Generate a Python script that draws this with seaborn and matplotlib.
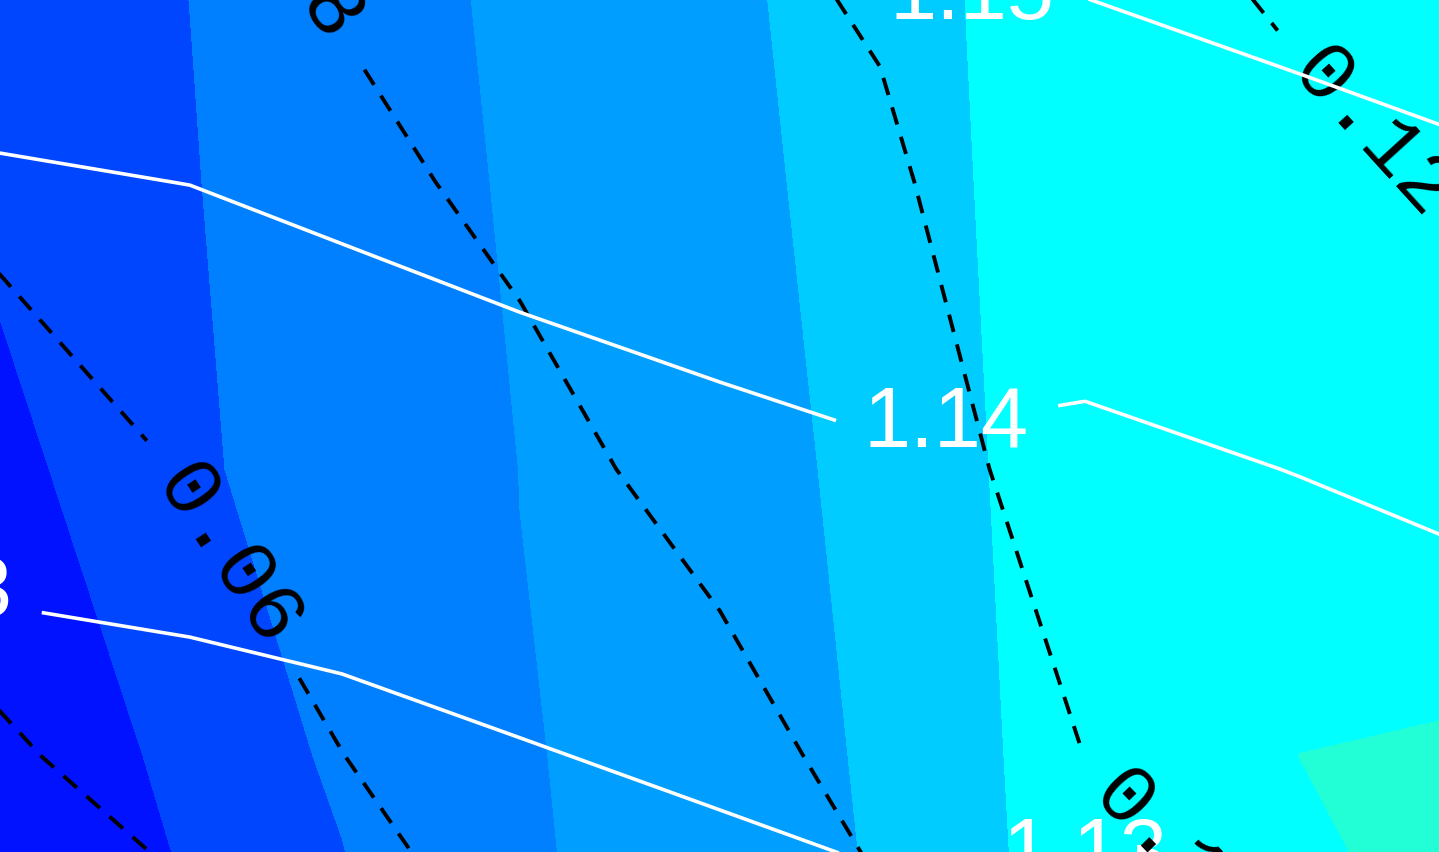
import numpy as np
import matplotlib
matplotlib.use("Agg")
import matplotlib.pyplot as plt
import seaborn as sns

# Grid of the three fields. The visible window is x 0..1439, y 0..852;
# the grid runs a little past it on every side.
x_coords = [-160, 190, 342, 520, 720, 880, 1085, 1300, 1600]
y_coords = [-120, 96, 383, 670, 972]

# shaded field (one row per y_coords entry, bottom row first)
shade_values = [
    [-0.500, 0.865, 1.755, 2.967, 3.100, 4.054, 5.480, 5.750, 6.414],
    [-1.360, 1.366, 2.150, 2.971, 3.180, 4.205, 5.520, 6.003, 6.085],
    [-0.284, 1.866, 2.450, 3.005, 3.450, 4.348, 5.574, 5.660, 5.750],
    [0.532, 1.957, 2.507, 3.100, 3.600, 4.555, 5.525, 5.700, 5.820],
    [0.950, 2.034, 2.550, 3.235, 3.800, 4.714, 5.456, 5.620, 5.750],
]
shade_levels = [-2, 1, 2, 3, 4, 5, 6, 7]
shade_colors = ["#0012FF", "#0046FF", "#0080FF", "#009EFF",
                "#00CCFF", "#00FFFF", "#22FFD6"]

# white solid contours
white_values = [
    [1.12136, 1.12259, 1.12313, 1.12460, 1.12625, 1.12759, 1.12749, 1.12926, 1.13174],
    [1.12611, 1.12737, 1.12811, 1.12958, 1.13125, 1.13259, 1.13216, 1.13394, 1.13643],
    [1.13242, 1.13372, 1.13472, 1.13621, 1.13789, 1.13924, 1.13836, 1.14017, 1.14301],
    [1.13873, 1.14007, 1.14145, 1.14315, 1.14486, 1.14568, 1.14531, 1.14731, 1.15002],
    [1.14560, 1.14744, 1.14900, 1.15090, 1.15236, 1.15270, 1.15300, 1.15483, 1.15741],
]
white_levels = [1.13, 1.14, 1.15]

# black dashed contours
dash_values = [
    [0.01300, 0.03371, 0.04798, 0.06204, 0.07020, 0.07673, 0.08814, 0.10104, 0.11052],
    [0.02673, 0.04983, 0.05987, 0.06746, 0.07480, 0.08478, 0.10010, 0.10630, 0.11504],
    [0.04413, 0.06087, 0.06751, 0.07528, 0.08510, 0.09640, 0.10314, 0.11018, 0.11980],
    [0.05695, 0.07060, 0.07629, 0.08335, 0.09185, 0.09864, 0.10676, 0.11516, 0.12733],
    [0.06698, 0.07818, 0.08387, 0.09112, 0.09927, 0.10220, 0.11645, 0.12700, 0.14200],
]
dash_levels = [0.04, 0.06, 0.08, 0.10, 0.12]

# where the inline labels sit
white_label_spots = [(-70, 258), (946, 430), (972, 856), (1085, -4)]
dash_label_spots = [(226, 295), (286, 900), (1174, -4), (1379, 725)]

sns.set_theme(style="white")
plt.rcParams["font.family"] = ["Liberation Sans", "DejaVu Sans"]
plt.rcParams["lines.dashed_pattern"] = [4.6, 3.3]

fig = plt.figure(figsize=(14.39, 8.52), dpi=100)
ax = fig.add_axes([0, 0, 1, 1])

X, Y = np.meshgrid(x_coords, y_coords)

ax.contourf(X, Y, np.array(shade_values), levels=shade_levels,
            colors=sns.color_palette(shade_colors), zorder=1)

cs_dash = ax.contour(X, Y, np.array(dash_values), levels=dash_levels,
                     colors="black", linewidths=2.8, linestyles="dashed",
                     zorder=2)
with plt.rc_context({"font.family": ["Liberation Mono"]}):
    dash_texts = ax.clabel(cs_dash, fmt="%.2f", fontsize=60, inline=True,
                           inline_spacing=12, manual=dash_label_spots)
for t in dash_texts:
    t.set_zorder(4)

# white lines sit on top of the black labels, white labels underneath them
cs_white = ax.contour(X, Y, np.array(white_values), levels=white_levels,
                      colors="white", linewidths=2.6, linestyles="solid",
                      zorder=5)
with plt.rc_context({"font.family": ["Liberation Sans"]}):
    white_texts = ax.clabel(cs_white, fmt="%.2f", fontsize=61, inline=True,
                            inline_spacing=10, manual=white_label_spots)
for t in white_texts:
    t.set_rotation(0)
    t.set_zorder(3)

ax.set_xlim(0, 1439)
ax.set_ylim(0, 852)
ax.set_axis_off()

fig.savefig("out.png", dpi=100)
